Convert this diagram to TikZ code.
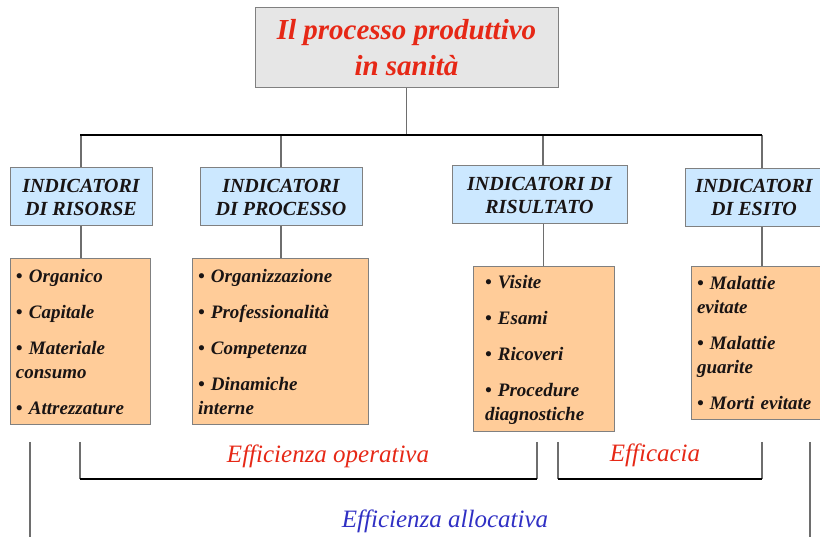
\documentclass[tikz,border=0pt]{standalone}
\usepackage{fontspec}
\setmainfont{Liberation Serif}
\definecolor{titlered}{RGB}{230,40,22}
\definecolor{allocblue}{RGB}{48,48,196}
\definecolor{headgray}{RGB}{230,230,230}
\definecolor{indblue}{RGB}{204,232,255}
\definecolor{vocorange}{RGB}{255,204,153}
\definecolor{boxgray}{RGB}{128,128,128}
\definecolor{linegray}{RGB}{110,110,110}
\definecolor{inktext}{RGB}{25,20,20}

\begin{document}
\begin{tikzpicture}[x=1pt,y=-1pt,
    head/.style={draw=boxgray,fill=headgray,line width=1pt,minimum width=303pt,minimum height=80pt,align=center,text=titlered,font=\fontsize{29}{36}\selectfont\bfseries\itshape},
    ind/.style={draw=boxgray,fill=indblue,line width=1pt,minimum height=58pt,align=center,text=inktext,font=\fontsize{20}{23}\selectfont\bfseries\itshape},
    voci/.style={draw=boxgray,fill=vocorange,line width=1pt,inner xsep=6pt,align=left,text=inktext,font=\fontsize{19}{24}\selectfont\bfseries\itshape},
    link/.style={draw=linegray,line width=1.2pt},
    bar/.style={draw=black,line width=2.5pt},
    effect/.style={font=\fontsize{25}{28}\selectfont\itshape}]
  \clip (0,0) rectangle (820,537);

  % titolo
  \node[head] (title) at (406.5,48) {Il processo produttivo\\in sanità};
  \coordinate (barL) at (80,135);
  \coordinate (barR) at (762,135);

  % indicatori
  \node[ind,minimum width=142pt] (ris) at (81,197) {INDICATORI\\DI RISORSE};
  \node[ind,minimum width=162pt] (pro) at (281,197) {INDICATORI\\DI PROCESSO};
  \node[ind,minimum width=175pt] (rst) at (539.5,195) {INDICATORI DI\\RISULTATO};
  \node[ind,minimum width=138pt] (esi) at (754,197.5) {INDICATORI\\DI ESITO};

  % voci
  \node[voci,minimum width=140pt,minimum height=166pt,text width=128pt] (risv) at (80,342)
    {• Organico\\[12pt]• Capitale\\[12pt]• Materiale\\consumo\\[12pt]• Attrezzature};
  \node[voci,minimum width=176pt,minimum height=166pt,text width=164pt] (prov) at (280,342)
    {• Organizzazione\\[12pt]• Professionalità\\[12pt]• Competenza\\[12pt]• Dinamiche\\interne};
  \node[voci,minimum width=141pt,minimum height=165pt,text width=129pt] (rstv) at (543.5,349.5)
    {\hspace*{6pt}• Visite\\[12pt]\hspace*{6pt}• Esami\\[12pt]\hspace*{6pt}• Ricoveri\\[12pt]\hspace*{6pt}• Procedure\\\hspace*{6pt}diagnostiche};
  \node[voci,minimum width=139pt,minimum height=153pt,text width=127pt] (esiv) at (760.5,343.5)
    {• Malattie\\evitate\\[12pt]• Malattie\\guarite\\[12pt]• Morti evitate};

  % collegamenti
  \draw[link] (title) -- (title |- barL);
  \draw[link] (ris) -- (ris |- barL);
  \draw[link] (pro.north) -- (pro.north |- barL);
  \draw[link] (rst.north -| 543,0) -- (barL -| 543,0);
  \draw[link] (esi.north -| barR) -- (barR);
  \draw[bar] (barL) -- (barR);
  \draw[link] (ris.south) -- (ris.south |- risv.north);
  \draw[link] (pro.south) -- (pro.south |- prov.north);
  \draw[link] (rst.south -| rstv) -- (rstv);
  \draw[link] (esi.south -| barR) -- (esiv.north -| barR);

  % efficienza / efficacia
  \node[effect,text=titlered] (oper) at (328,456) {Efficienza operativa};
  \node[effect,text=titlered] (effi) at (655,455) {Efficacia};
  \node[effect,text=allocblue] (alloc) at (445,521) {Efficienza allocativa};
  \coordinate (opL) at (80,442);
  \coordinate (opR) at (537,442);
  \coordinate (efL) at (558,442);
  \coordinate (efR) at (762,442);
  \coordinate (alL) at (30,442);
  \coordinate (alR) at (810,442);
  \draw[link] (opL) -- ++(0,37) coordinate (opLb);
  \draw[link] (opR) -- ++(0,37) coordinate (opRb);
  \draw[black,line width=1.5pt] (opLb) -- (opRb);
  \draw[link] (efL) -- ++(0,37) coordinate (efLb);
  \draw[link] (efR) -- ++(0,37) coordinate (efRb);
  \draw[black,line width=1.5pt] (efLb) -- (efRb);
  \draw[link] (alL) -- ++(0,100);
  \draw[link] (alR) -- ++(0,100);
\end{tikzpicture}
\end{document}
